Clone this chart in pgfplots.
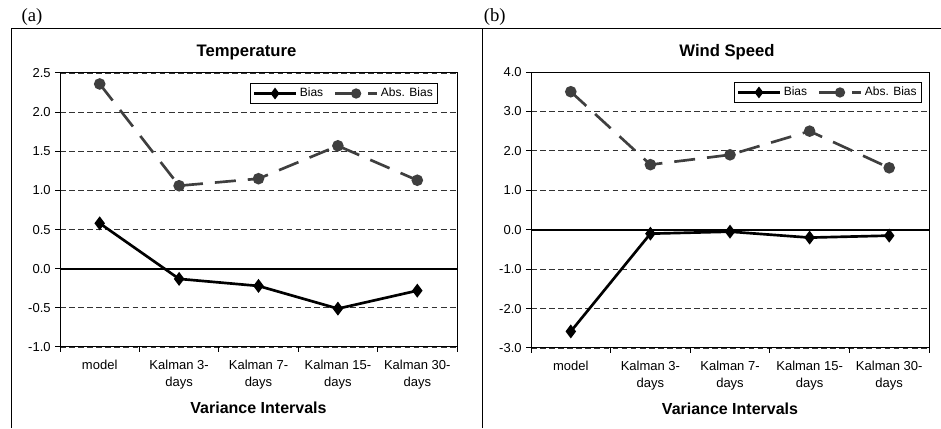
\documentclass[border=0pt]{standalone}
\usepackage{fontspec}
\setmainfont{Liberation Sans}
\newfontfamily\timesfont{Liberation Serif}
\usepackage{pgfplots}
\usepackage{pgfplotstable}
\pgfplotsset{compat=1.18}

\definecolor{absgray}{HTML}{3F3F3F}

% x = category index, bias, absolute bias
\pgfplotstableread{
x bias abs
1  0.58 2.36
2 -0.13 1.06
3 -0.22 1.15
4 -0.51 1.57
5 -0.28 1.13
}\temptab

\pgfplotstableread{
x bias abs
1 -2.58 3.50
2 -0.10 1.65
3 -0.05 1.90
4 -0.20 2.50
5 -0.15 1.57
}\windtab

\tikzset{frame/.style={black, line width=0.75pt}}

\pgfplotsset{
  excel/.style={
    scale only axis,
    xmin=0.5, xmax=5.5,
    xtick={1,...,5},
    xticklabels={model,{Kalman 3-\\days},{Kalman 7-\\days},{Kalman 15-\\days},{Kalman 30-\\days}},
    minor xtick={0.5,1.5,...,5.5},
    major x tick style={draw=none},
    minor x tick style={black, line width=0.75pt},
    major y tick style={black, line width=0.75pt},
    tick pos=left, tick align=outside,
    major tick length=3.5pt, minor tick length=3.5pt,
    axis line style={line width=0.75pt},
    ymajorgrids,
    major grid style={black!80, line width=0.6pt, dash pattern=on 4.3pt off 2.5pt},
    /pgf/number format/assume math mode=true,
    yticklabel style={/pgf/number format/.cd, fixed, fixed zerofill, precision=1},
    tick label style={font=\fontsize{9.75}{12.75}\selectfont},
    xticklabel style={align=center, yshift=-3pt},
    title style={font=\bfseries\fontsize{12.5}{14}\selectfont,
      at={(axis description cs:0.5,1)}, anchor=center, yshift=9pt},
    xlabel={Variance Intervals},
    xlabel style={font=\bfseries\fontsize{12}{14}\selectfont,
      at={(axis description cs:0.5,0)}, anchor=center, yshift=-45.75pt},
    legend columns=2,
    legend style={draw=black, line width=0.75pt, font=\fontsize{9}{11}\selectfont,
      inner sep=1.5pt, row sep=0pt,
      /tikz/every even column/.append style={column sep=6pt}},
    legend image code/.code={%
      \draw[mark repeat=2, mark phase=2, mark size=2.8pt] plot coordinates {(0cm,0cm) (0.55cm,0cm) (1.1cm,0cm)};},
  },
  biasline/.style={black, line width=2pt, mark=diamond*, mark size=3.6pt,
    mark options={solid}},
  absline/.style={absgray, line width=2pt, dash pattern=on 15.75pt off 9pt,
    mark=*, mark size=3.3pt, mark options={solid}},
}

\begin{document}
\begin{tikzpicture}
\path[use as bounding box] (0,0) rectangle (705.75pt,321pt);
\draw[line width=0.75pt] (8.25pt,0) -- (8.25pt,299.25pt) -- (705.75pt,299.25pt);
\draw[line width=0.75pt] (361.5pt,0) -- (361.5pt,299.25pt);
\node[font=\timesfont\fontsize{14}{16}\selectfont] at (24pt,308pt) {(a)};
\node[font=\timesfont\fontsize{14}{16}\selectfont] at (371pt,308pt) {(b)};

\begin{axis}[excel,
  at={(45pt,60.75pt)}, anchor=south west,
  width=297.75pt, height=205.5pt,
  ymin=-1, ymax=2.5, ytick={-1,-0.5,...,2.5},
  title={Temperature},
  title style={xshift=-9pt},
  legend style={at={(0.952,0.9635)}, anchor=north east},
]
\draw[frame] (rel axis cs:0,0) rectangle (rel axis cs:1,1);
\draw[black, line width=1.2pt] (axis cs:0.5,0) -- (axis cs:5.5,0);
\addplot[biasline] table[x=x, y=bias] {\temptab};
\addlegendentry{Bias}
\addplot[absline] table[x=x, y=abs] {\temptab};
\addlegendentry{Abs. Bias}
\end{axis}

\begin{axis}[excel,
  at={(398.25pt,60pt)}, anchor=south west,
  width=298.5pt, height=207pt,
  ymin=-3, ymax=4, ytick={-3,...,4},
  title={Wind Speed},
  title style={xshift=-2.25pt},
  legend style={at={(0.982,0.964)}, anchor=north east},
]
\draw[frame] (rel axis cs:0,0) rectangle (rel axis cs:1,1);
\draw[black, line width=1.2pt] (axis cs:0.5,0) -- (axis cs:5.5,0);
\addplot[biasline] table[x=x, y=bias] {\windtab};
\addlegendentry{Bias}
\addplot[absline] table[x=x, y=abs] {\windtab};
\addlegendentry{Abs. Bias}
\end{axis}
\end{tikzpicture}
\end{document}
